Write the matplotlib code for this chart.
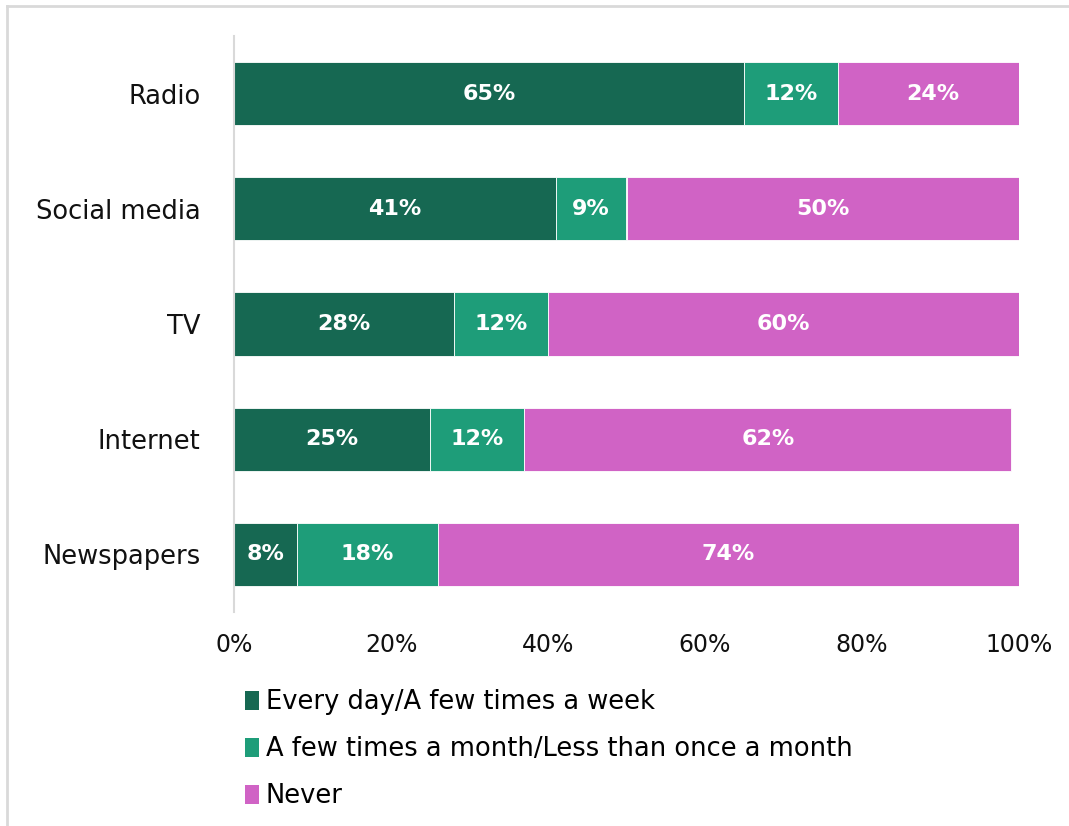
import matplotlib.pyplot as plt
from matplotlib.lines import Line2D
from matplotlib.patches import Patch

media = ["Newspapers", "Internet", "TV", "Social media", "Radio"]
often = [8, 25, 28, 41, 65]
sometimes = [18, 12, 12, 9, 12]
never = [74, 62, 60, 50, 24]
series_names = ["Every day/A few times a week",
                "A few times a month/Less than once a month",
                "Never"]
colors = ["#166852", "#1e9d79", "#d063c5"]
xticks = [0, 20, 40, 60, 80, 100]

plt.rcParams['font.family'] = 'DejaVu Sans'

fig = plt.figure(figsize=(10.69, 8.26), dpi=100)
ax = fig.add_axes([234/1069, 1 - 612/826, (1019 - 234)/1069, (612 - 36)/826])

ypos = list(range(len(media)))
left = [0] * len(media)
for vals, col in zip([often, sometimes, never], colors):
    bars = ax.barh(ypos, vals, left=left, height=0.55, color=col,
                   edgecolor="white", linewidth=0.6)
    for b, v in zip(bars, vals):
        ax.text(b.get_x() + b.get_width() / 2, b.get_y() + b.get_height() / 2,
                f"{v}%", ha="center", va="center", color="white",
                fontsize=16, fontweight="bold")
    left = [l + v for l, v in zip(left, vals)]

ax.set_xlim(0, 100)
ax.set_ylim(-0.5, 4.5)
ax.set_yticks(ypos)
ax.set_yticklabels(media, fontsize=18.5, color="#111111")
ax.set_xticks(xticks)
ax.set_xticklabels([f"{t}%" for t in xticks], fontsize=17, color="#111111")
ax.tick_params(length=0)
ax.tick_params(axis="y", pad=24)
ax.tick_params(axis="x", pad=15)
for s in ["top", "right", "bottom"]:
    ax.spines[s].set_visible(False)
ax.spines["left"].set_color("#d9d9d9")
ax.spines["left"].set_linewidth(1.5)

handles = [Patch(facecolor=c) for c in colors]
fig.legend(handles, series_names, loc="upper left",
           bbox_to_anchor=(235/1069, 1 - 679/826), frameon=False,
           fontsize=18.5, handlelength=0.55, handleheight=0.75,
           handletextpad=0.25, labelspacing=0.82, borderaxespad=0)

# thin frame along top and left edge
fig.add_artist(Line2D([7/1069, 1], [1 - 6/826, 1 - 6/826], color="#d9d9d9", lw=2,
                      transform=fig.transFigure))
fig.add_artist(Line2D([7/1069, 7/1069], [0, 1 - 6/826], color="#d9d9d9", lw=2,
                      transform=fig.transFigure))

fig.savefig("out.png", dpi=100, facecolor="white")
